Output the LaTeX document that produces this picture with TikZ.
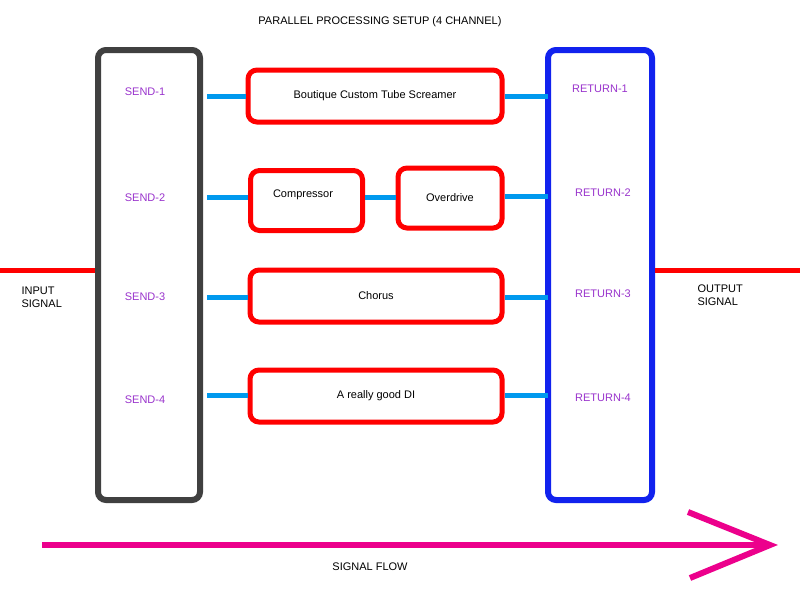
\documentclass[tikz,border=0pt]{standalone}
\usepackage{fontspec}
\setmainfont{Liberation Sans}
\begin{document}
\begin{tikzpicture}[x=1pt,y=-1pt,
  rack/.style={rounded corners=8pt,line width=6pt},
  fx/.style={draw=red,rounded corners=9pt,line width=5pt,font=\fontsize{11}{13}\selectfont},
  cable/.style={draw={rgb,255:red,0;green,153;blue,238},line width=5pt},
  lbl/.style={text={rgb,255:red,153;green,51;blue,204},font=\fontsize{11}{13}\selectfont},
  txt/.style={font=\fontsize{11}{13}\selectfont,align=left}]
\useasboundingbox (0,0) rectangle (800,600);
\node[font=\fontsize{11}{13}\selectfont] (title) at (380,22) {PARALLEL PROCESSING SETUP (4 CHANNEL)};
\draw[rack,draw={rgb,255:red,64;green,64;blue,64}] (98,50) rectangle (200,500);
\draw[rack,draw={rgb,255:red,17;green,34;blue,238}] (548,50) rectangle (652,500);
\node[lbl] (s1) at (145,92) {SEND-1};
\node[lbl] (s2) at (145,198) {SEND-2};
\node[lbl] (s3) at (145,297) {SEND-3};
\node[lbl] (s4) at (145,400) {SEND-4};
\node[lbl] (r1) at (600,89) {RETURN-1};
\node[lbl] (r2) at (603,193) {RETURN-2};
\node[lbl] (r3) at (603,294) {RETURN-3};
\node[lbl] (r4) at (603,398) {RETURN-4};
\node[fx,minimum width=254pt,minimum height=52pt] (b1) at (375,96) {Boutique Custom Tube Screamer};
\node[fx,minimum width=112pt,minimum height=60pt,anchor=north west,inner sep=8pt] (b2) at (248,168) {};
\node at (303,195) [font=\fontsize{11}{13}\selectfont] (b2t) {Compressor};
\node[fx,minimum width=104pt,minimum height=60pt] (b3) at (450,198) {Overdrive};
\node[fx,minimum width=252pt,minimum height=52pt] (b4) at (376,296) {Chorus};
\node[fx,minimum width=252pt,minimum height=52pt] (b5) at (376,396) {A really good DI};
\coordinate (o1) at (207,96); \coordinate (p1) at (548,96);
\coordinate (o2) at (207,197); \coordinate (p2) at (548,196);
\coordinate (o3) at (207,297); \coordinate (p3) at (548,297);
\coordinate (o4) at (207,395); \coordinate (p4) at (548,395);
\draw[cable] (o1) -- (b1.west|-o1); \draw[cable] (b1.east|-p1) -- (p1);
\draw[cable] (o2) -- (b2.west|-o2); \draw[cable] (b2.east|-o2) -- (b3.west|-o2); \draw[cable] (b3.east|-p2) -- (p2);
\draw[cable] (o3) -- (b4.west|-o3); \draw[cable] (b4.east|-p3) -- (p3);
\draw[cable] (o4) -- (b5.west|-o4); \draw[cable] (b5.east|-p4) -- (p4);
\coordinate (i0) at (0,270); \coordinate (i1) at (95,270);
\coordinate (q0) at (655,270); \coordinate (q1) at (800,270);
\draw[red,line width=5pt] (i0) -- (i1);
\draw[red,line width=5pt] (q0) -- (q1);
\node[txt,anchor=west] (in) at (18,297) {INPUT\\SIGNAL};
\node[txt,anchor=west] (out) at (694,295) {OUTPUT\\SIGNAL};
\coordinate (f0) at (42,545); \coordinate (f1) at (770,545);
\coordinate (h1) at (688,512); \coordinate (h2) at (690,578);
\draw[magenta,line width=6pt] (f0) -- (f1);
\draw[magenta,line width=6pt] (h1) -- (f1) -- (h2);
\node[font=\fontsize{11}{13}\selectfont] (sf) at (370,567) {SIGNAL FLOW};
\end{tikzpicture}
\end{document}
